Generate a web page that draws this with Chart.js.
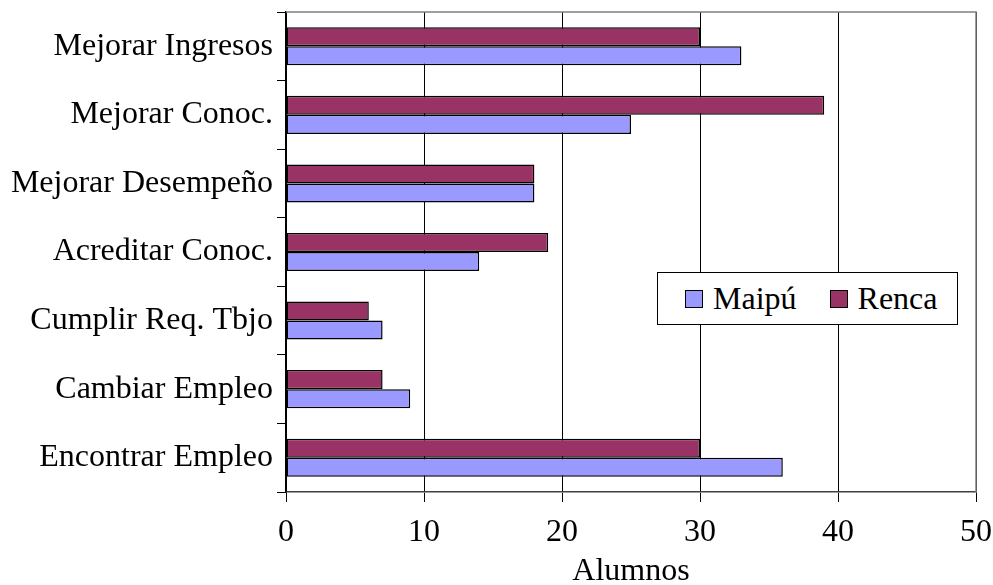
<!DOCTYPE html>
<html>
<head>
<meta charset="utf-8">
<script src="https://cdn.jsdelivr.net/npm/chart.js@4.4.1/dist/chart.umd.min.js"></script>
<style>
  html, body { margin: 0; padding: 0; background: #fff; }
  #wrap { position: relative; width: 993px; height: 585px; }
  #legend {
    position: absolute; left: 657px; top: 272px; width: 299px; height: 51px;
    border: 1px solid #000; background: #fff;
    font-family: "Liberation Serif", "DejaVu Serif", serif; font-size: 32px; color: #000;
    display: flex; align-items: center;
  }
  #legend .item { display: flex; align-items: center; }
  #legend .box { width: 16px; height: 16px; border: 1.5px solid #000; margin-right: 10px; }
</style>
</head>
<body>
<div id="wrap">
  <canvas id="chart" width="993" height="585"></canvas>
  <div id="legend"></div>
</div>
<script>
  const categories = [
    "Mejorar Ingresos",
    "Mejorar Conoc.",
    "Mejorar Desempeño",
    "Acreditar Conoc.",
    "Cumplir Req. Tbjo",
    "Cambiar Empleo",
    "Encontrar Empleo"
  ];
  const renca = [30, 39, 18, 19, 6, 7, 30];
  const maipu = [33, 25, 18, 14, 7, 9, 36];
  const xTicks = [0, 10, 20, 30, 40, 50];

  const serif = "'Liberation Serif', 'DejaVu Serif', serif";

  // borde gris arriba y a la derecha del area de trazado
  const frame = {
    id: "frame",
    afterDraw(chart) {
      const { ctx, chartArea: a } = chart;
      ctx.save();
      ctx.strokeStyle = "#808080";
      ctx.lineWidth = 1.5;
      ctx.beginPath();
      ctx.moveTo(a.left, a.top);
      ctx.lineTo(a.right, a.top);
      ctx.lineTo(a.right, a.bottom);
      ctx.stroke();
      ctx.restore();
    }
  };

  const chart = new Chart(document.getElementById("chart"), {
    type: "bar",
    data: {
      labels: categories,
      datasets: [
        {
          label: "Renca",
          data: renca,
          backgroundColor: "#993366",
          borderColor: "#000",
          borderWidth: 1.5,
          borderSkipped: false,
          categoryPercentage: 0.555,
          barPercentage: 1
        },
        {
          label: "Maipú",
          data: maipu,
          backgroundColor: "#9999FF",
          borderColor: "#000",
          borderWidth: 1.5,
          borderSkipped: false,
          categoryPercentage: 0.555,
          barPercentage: 1
        }
      ]
    },
    options: {
      indexAxis: "y",
      responsive: false,
      animation: false,
      layout: { padding: { top: 12, right: 17 } },
      plugins: {
        legend: { display: false },
        tooltip: { enabled: false }
      },
      scales: {
        x: {
          min: 0,
          max: 50,
          afterBuildTicks: (s) => { s.ticks = xTicks.map((v) => ({ value: v })); },
          afterFit: (s) => { s.height = 93; s.paddingLeft = 0; s.paddingRight = 0; },
          grid: { color: "#000", lineWidth: 1, tickLength: 10 },
          border: { color: "#404040", width: 1.5 },
          ticks: { color: "#000", font: { family: serif, size: 32 }, padding: 11 },
          title: {
            display: true,
            text: "Alumnos",
            color: "#000",
            font: { family: serif, size: 32, lineHeight: 1 },
            padding: { top: 0, bottom: -3 }
          }
        },
        y: {
          afterFit: (s) => { s.width = 286; s.paddingTop = 0; s.paddingBottom = 0; },
          grid: { drawOnChartArea: false, color: "#000", tickLength: 9, offset: true },
          border: { color: "#000", width: 1.5 },
          ticks: { color: "#000", font: { family: serif, size: 32 }, padding: 4 }
        }
      }
    },
    plugins: [frame]
  });

  // leyenda en orden Maipú, Renca
  const legend = document.getElementById("legend");
  chart.data.datasets.slice().reverse().forEach((ds, i) => {
    const item = document.createElement("div");
    item.className = "item";
    item.style.marginLeft = i === 0 ? "27px" : "33px";
    item.innerHTML = '<span class="box" style="background:' + ds.backgroundColor + '"></span>' + ds.label;
    legend.appendChild(item);
  });
</script>
</body>
</html>
